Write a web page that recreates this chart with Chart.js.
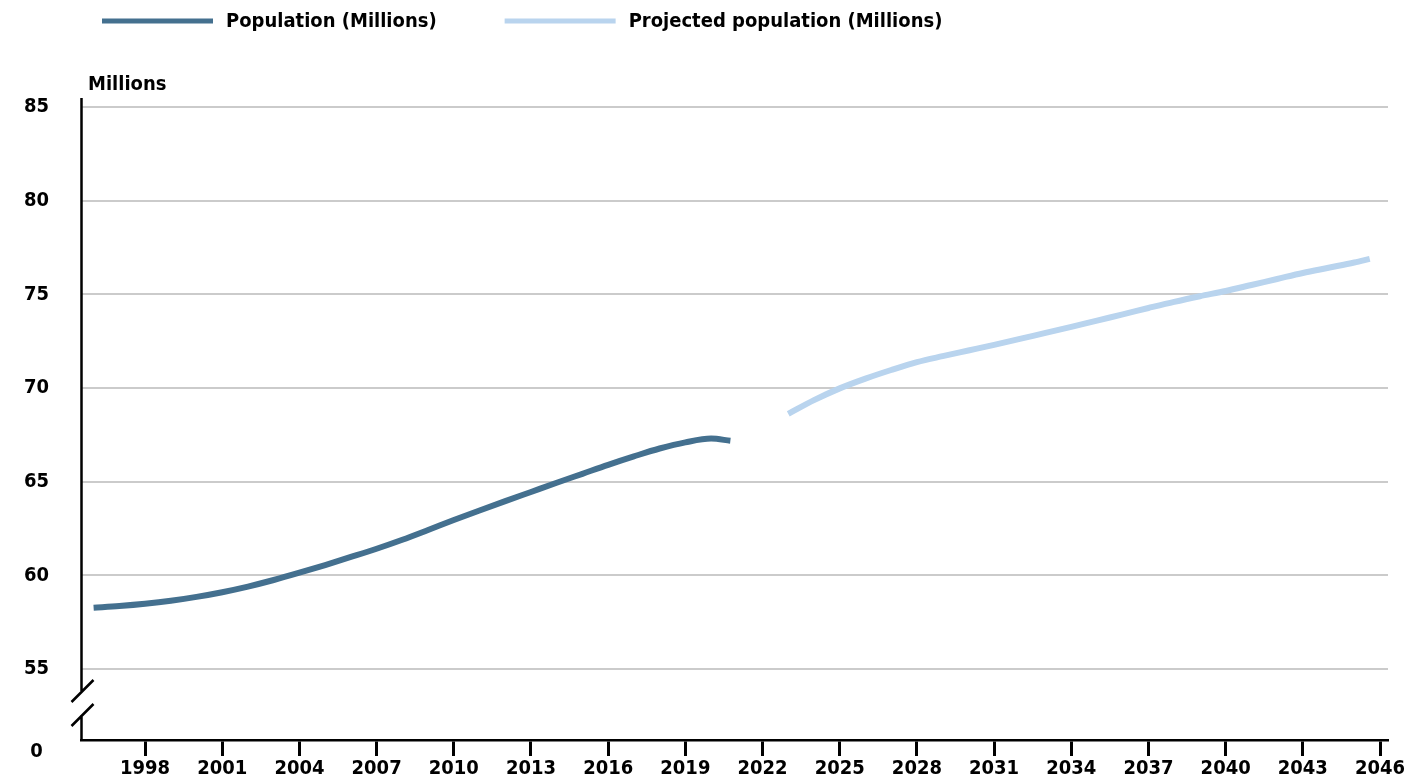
<!DOCTYPE html>
<html>
<head>
<meta charset="utf-8">
<script src="https://cdn.jsdelivr.net/npm/chart.js@4"></script>
<style>
  html, body { margin: 0; padding: 0; background: #ffffff; }
  canvas { display: block; }
</style>
</head>
<body>
<canvas id="chart" width="1408" height="782"></canvas>
<script>
// Recorded population, millions
const historicalYears = [1996, 1997, 1998, 1999, 2000, 2001, 2002, 2003, 2004, 2005, 2006, 2007, 2008,
  2009, 2010, 2011, 2012, 2013, 2014, 2015, 2016, 2017, 2018, 2019, 2020, 2020.75];
const historicalPopulation = [58.27, 58.36, 58.48, 58.64, 58.85, 59.1, 59.4, 59.75, 60.14, 60.55, 60.98, 61.42, 61.9,
  62.42, 62.95, 63.46, 63.96, 64.45, 64.94, 65.42, 65.9, 66.35, 66.77, 67.1, 67.3, 67.18];

// Projected population, millions
const projectedYears = [2023, 2024, 2025, 2026, 2027, 2028, 2029, 2030, 2031, 2032, 2033, 2034,
  2035, 2036, 2037, 2038, 2039, 2040, 2041, 2042, 2043, 2044, 2045, 2045.6];
const projectedPopulation = [68.62, 69.35, 69.98, 70.5, 70.96, 71.38, 71.7, 72.0, 72.3, 72.62, 72.94, 73.26,
  73.6, 73.93, 74.27, 74.6, 74.9, 75.18, 75.5, 75.82, 76.14, 76.42, 76.7, 76.89];

const seriesLabels = ['Population (Millions)', 'Projected population (Millions)'];
const xTickYears = [1998, 2001, 2004, 2007, 2010, 2013, 2016, 2019, 2022, 2025, 2028, 2031, 2034, 2037, 2040, 2043, 2046];
const yTickValues = [55, 60, 65, 70, 75, 80, 85];
const yZeroLabel = '0';
const yAxisTitle = 'Millions';

const FONT = "'DejaVu Sans Condensed', 'DejaVu Sans', sans-serif";
const DARK = '#44708f';
const LIGHT = '#b9d4ee';

// The value axis is broken below 55; "0" is printed under the break.
const BREAK_AT = 55;
const Y_MIN = 51.21, Y_MAX = 85.48, ZERO_POS = 50.57;

const toPoints = (xs, ys) => xs.map((x, i) => ({ x, y: ys[i] }));

const decorations = {
  id: 'decorations',
  afterDraw(chart) {
    const { ctx, chartArea, scales: { y } } = chart;
    const x0 = chartArea.left + 0.5;
    const p55 = y.getPixelForValue(BREAK_AT);
    const c1 = p55 + 22, c2 = p55 + 46;
    ctx.save();
    ctx.strokeStyle = '#000';
    ctx.lineWidth = 2.5;
    ctx.lineCap = 'butt';
    ctx.beginPath();
    ctx.moveTo(x0, chartArea.top);
    ctx.lineTo(x0, c1);
    ctx.moveTo(x0, c2);
    ctx.lineTo(x0, chartArea.bottom);
    // break slashes
    [c1, c2].forEach(c => {
      ctx.moveTo(x0 - 10, c + 11);
      ctx.lineTo(x0 + 12, c - 11);
    });
    ctx.stroke();

    // axis caption
    ctx.fillStyle = '#000';
    ctx.font = `bold 20px ${FONT}`;
    ctx.textAlign = 'left';
    ctx.textBaseline = 'middle';
    ctx.fillText(yAxisTitle, chartArea.left + 7, 85);

    // legend
    let lx = 102;
    const ly = 21;
    chart.data.datasets.forEach(ds => {
      ctx.strokeStyle = ds.borderColor;
      ctx.lineWidth = 5;
      ctx.beginPath();
      ctx.moveTo(lx, ly);
      ctx.lineTo(lx + 111, ly);
      ctx.stroke();
      const tx = lx + 124;
      ctx.fillText(ds.label, tx, ly + 1);
      lx = tx + ctx.measureText(ds.label).width + 68;
    });
    ctx.restore();
  }
};

new Chart(document.getElementById('chart'), {
  type: 'line',
  data: {
    datasets: [
      {
        label: seriesLabels[0],
        data: toPoints(historicalYears, historicalPopulation),
        borderColor: DARK,
        borderWidth: 6,
        pointRadius: 0,
        cubicInterpolationMode: 'monotone',
        fill: false
      },
      {
        label: seriesLabels[1],
        data: toPoints(projectedYears, projectedPopulation),
        borderColor: LIGHT,
        borderWidth: 6,
        pointRadius: 0,
        cubicInterpolationMode: 'monotone',
        fill: false
      }
    ]
  },
  options: {
    responsive: false,
    animation: false,
    layout: { padding: { top: 98, right: 20, left: 0, bottom: 0 } },
    plugins: {
      legend: { display: false },
      tooltip: { enabled: false }
    },
    scales: {
      x: {
        type: 'linear',
        min: 1995.51,
        max: 2046.31,
        afterBuildTicks: s => { s.ticks = xTickYears.map(v => ({ value: v })); },
        afterFit: s => {
          s.height = 42;
          s.paddingLeft = 0;
          s.paddingRight = 0;
        },
        border: { display: true, color: '#000', width: 2.5 },
        grid: { drawOnChartArea: false, drawTicks: true, tickLength: 16, tickColor: '#000', tickWidth: 3, color: '#000' },
        ticks: {
          color: '#000',
          font: { family: FONT, size: 20, weight: 'bold' },
          padding: 1,
          maxRotation: 0,
          autoSkip: false,
          callback: v => String(v)
        }
      },
      y: {
        type: 'linear',
        min: Y_MIN,
        max: Y_MAX,
        afterBuildTicks: s => {
          s.ticks = [{ value: ZERO_POS }].concat(yTickValues.map(v => ({ value: v })));
        },
        afterFit: s => {
          s.width = 81;
          s.paddingTop = 0;
          s.paddingBottom = 0;
        },
        border: { display: false },
        grid: {
          drawTicks: false,
          lineWidth: 2,
          color: c => (c.tick && c.tick.value >= BREAK_AT) ? '#cbcbcb' : 'rgba(0,0,0,0)'
        },
        ticks: {
          crossAlign: 'center',
          padding: 32,
          color: '#000',
          font: { family: FONT, size: 20, weight: 'bold' },
          callback: v => (v < BREAK_AT ? yZeroLabel : String(v))
        }
      }
    }
  },
  plugins: [decorations]
});
</script>
</body>
</html>
